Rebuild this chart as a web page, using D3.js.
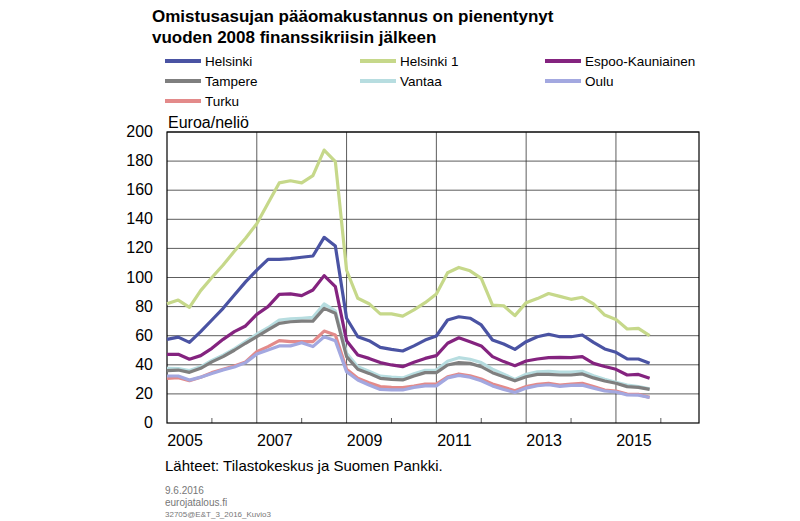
<!DOCTYPE html>
<html><head><meta charset="utf-8">
<script src="https://cdn.jsdelivr.net/npm/d3@7"></script>
<style>body{margin:0;background:#fff;font-family:Arial,"Liberation Sans",sans-serif}</style>
</head><body>
<svg id="chart" width="800" height="521"></svg>
<script>
// quarterly, 2005Q1 .. 2015Q4
var helsinki1 = [82,84.5,79.5,91,100,108.6,118,127,137,151,165,166.5,165,170,187.6,179.6,105,85.7,82,75,75,73.5,77.7,82.7,88.7,103.3,106.9,104.6,99.4,81,80.6,73.8,82.7,85.5,89,87,85,86.4,81.8,74.2,71.2,64.6,65,60];
var helsinki = [57.5,59,55.4,62.8,70.8,78.8,88,97,105,112.5,112.5,113,113.9,114.8,127.6,121.6,72,59.3,56.6,52,50.6,49.5,53,57,59.8,70.8,73,72,67.4,57,54.3,50.6,55.9,59.3,61,59.3,59.3,60.5,55.4,50.9,48.6,44,44,41];
var espoo = [47.2,47.2,43.8,46.3,51.3,57.5,62.8,66.7,74.7,80,88.4,88.7,87.5,91.4,101.3,93.7,56.6,46.7,44.4,41.5,39.9,38.7,41.7,44.4,46.3,54.8,58.6,55.9,53,45.6,42.2,39.4,42.6,44,44.9,45.1,44.9,45.6,41,38.8,36.9,33,33.4,30.7];
var tampere = [36,36.4,34.8,37.6,42,45.6,50,54.8,59.3,64,68.5,69.6,70,70,78.8,75.4,45.6,36.9,34.1,30.7,30,29.6,32.3,34.6,34.6,39.9,41.5,41,38.7,34.6,31.8,29,31.8,33.4,33.4,33,33,33.7,31,28.9,27.3,25,24.5,23.1];
var vantaa = [37.6,37.4,36,38.6,43,46.6,51,56,61,65.5,70.8,71.5,72,72.6,81.8,77,47.9,38.7,35.5,32.2,31.5,31,33.8,36.2,36.4,42.5,44.9,43.8,41.5,37,33.5,30,33.5,35.2,35.5,35,35,35.5,32.5,30,28,26,25,23.5];
var oulu = [32.3,32.3,29.5,31.5,34,36.5,38.5,41.5,47.4,50.2,53,53,55.2,52.5,59.3,56.6,35.3,29.6,26.1,23.1,22.7,22.7,24.5,25.5,25.5,31,32.7,31.5,29,25.5,23,21,24,25.6,26.3,25.2,25.8,26,24,22,21.3,19.3,19.2,17.5];
var turku = [30.7,31.2,29.1,31.4,34.6,36.9,39.2,42,49,52.5,56.6,55.9,55.9,55.9,63.2,60.5,36.9,30.7,27.7,25,24.5,24.3,25.4,26.8,26.8,31.8,33.7,32.5,30.2,26.8,24.5,22.2,25,26.6,27.3,26.1,26.8,27.3,25,22.7,22,19.9,19.7,17.6];

var seriesNames = ["Helsinki","Helsinki 1","Espoo-Kauniainen","Tampere","Vantaa","Oulu","Turku"];
var seriesData = [helsinki, helsinki1, espoo, tampere, vantaa, oulu, turku];
var colors = ["#4a53a3","#c6d88a","#84237f","#7f7f7f","#b7dde0","#a3a8e0","#e38a8a"];
var drawOrder = [1,0,2,3,4,5,6];
var yearLabels = [2005,2007,2009,2011,2013,2015];

var svg = d3.select("#chart");
var pLeft = 167, pRight = 699, pTop = 132, pBottom = 423;

var x = d3.scaleLinear().domain([2005, 2016.85]).range([pLeft, pRight]);
var y = d3.scaleLinear().domain([0, 200]).range([pBottom, pTop]);

svg.append("text").attr("x",152).attr("y",22).attr("font-size",17).attr("font-weight","bold")
  .text("Omistusasujan pääomakustannus on pienentynyt");
svg.append("text").attr("x",152).attr("y",43).attr("font-size",17).attr("font-weight","bold")
  .text("vuoden 2008 finanssikriisin jälkeen");

// legend
var legPos = [[165,66],[360,66],[545,66],[165,86],[360,86],[545,86],[165,106]];
seriesNames.forEach(function(n, i){
  var p = legPos[i];
  svg.append("line").attr("x1",p[0]).attr("x2",p[0]+36).attr("y1",p[1]-5).attr("y2",p[1]-5)
    .attr("stroke",colors[i]).attr("stroke-width",4);
  svg.append("text").attr("x",p[0]+40).attr("y",p[1]).attr("font-size",13.5).text(n);
});

// gridlines
svg.append("g").selectAll("line").data(d3.range(20,201,20)).enter().append("line")
  .attr("x1",pLeft).attr("x2",pRight).attr("y1",d=>y(d)).attr("y2",d=>y(d))
  .attr("stroke","#333").attr("stroke-width",0.8);
svg.append("g").selectAll("line").data([2007,2009,2011,2013,2015]).enter().append("line")
  .attr("x1",d=>x(d)).attr("x2",d=>x(d)).attr("y1",pTop).attr("y2",pBottom)
  .attr("stroke","#333").attr("stroke-width",0.8);
svg.append("g").selectAll("line").data([2006,2008,2010,2012,2014,2016]).enter().append("line")
  .attr("x1",d=>x(d)).attr("x2",d=>x(d)).attr("y1",pBottom-5).attr("y2",pBottom)
  .attr("stroke","#333").attr("stroke-width",0.8);
svg.append("rect").attr("x",pLeft).attr("y",pTop).attr("width",pRight-pLeft).attr("height",pBottom-pTop)
  .attr("fill","none").attr("stroke","#000").attr("stroke-width",1.2);

// labels
svg.append("g").selectAll("text").data(d3.range(0,201,20)).enter().append("text")
  .attr("x",153).attr("y",d=>y(d)+5).attr("text-anchor","end").attr("font-size",16).text(d=>d);
svg.append("g").selectAll("text").data(yearLabels).enter().append("text")
  .attr("x",d=>x(d)+18).attr("y",446).attr("text-anchor","middle").attr("font-size",16).text(d=>d);
svg.append("text").attr("x",168).attr("y",128).attr("font-size",16).text("Euroa/neliö");

var line = d3.line().x((d,i)=>x(2005+i*0.25)).y(d=>y(d));
drawOrder.slice().reverse().forEach(function(k){
  svg.append("path").datum(seriesData[k]).attr("d",line).attr("fill","none")
    .attr("stroke",colors[k]).attr("stroke-width",3.2).attr("stroke-linejoin","round");
});

svg.append("text").attr("x",165).attr("y",471).attr("font-size",15).text("Lähteet: Tilastokeskus ja Suomen Pankki.");
svg.append("text").attr("x",165).attr("y",494).attr("font-size",10).attr("fill","#777").text("9.6.2016");
svg.append("text").attr("x",165).attr("y",506).attr("font-size",10).attr("fill","#777").text("eurojatalous.fi");
svg.append("text").attr("x",165).attr("y",517).attr("font-size",8).attr("fill","#777").text("32705@E&T_3_2016_Kuvio3");
</script>
</body></html>
